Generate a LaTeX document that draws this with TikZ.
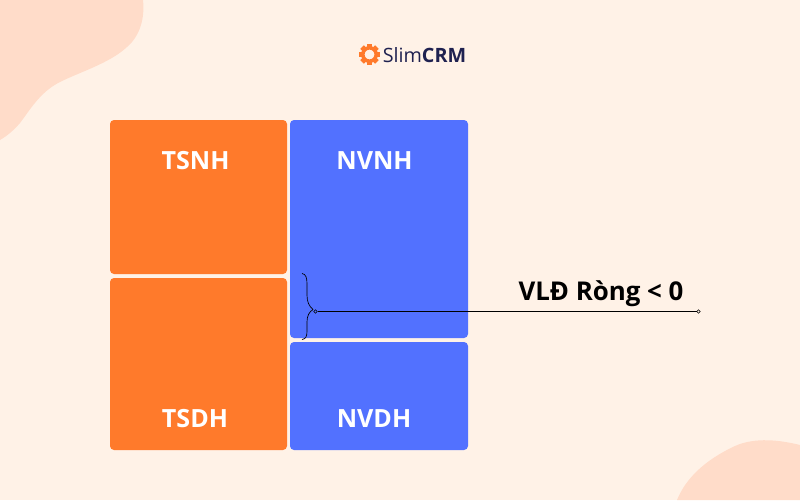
\documentclass[tikz,border=0pt]{standalone}
\usepackage{fontspec}
\setmainfont{Open Sans}
\usetikzlibrary{positioning}
\definecolor{bgcream}{RGB}{255,242,231}
\definecolor{blobpeach}{RGB}{255,220,201}
\definecolor{boxorange}{RGB}{255,122,43}
\definecolor{boxblue}{RGB}{82,113,255}
\definecolor{logonavy}{RGB}{31,33,80}
\tikzset{
  orangebox/.style={rectangle,rounded corners=3pt,inner sep=0pt,fill=boxorange,minimum width=132.75pt},
  bluebox/.style={rectangle,rounded corners=3pt,inner sep=0pt,fill=boxblue,minimum width=133.5pt},
  boxlabel/.style={text=white,font=\fontsize{18.8}{22}\selectfont\bfseries},
  enddot/.style={circle,draw=black,fill=none,line width=0.4pt,inner sep=0pt,minimum size=2.6pt}
}
\begin{document}
\begin{tikzpicture}[x=0.75pt,y=0.75pt,yscale=-1,xscale=1]
\useasboundingbox (0,0) rectangle (800,500);
\fill [bgcream] (0,0) rectangle (800,500);

% Background blobs
\fill [blobpeach] (0,0) -- (143,0) .. controls (145,18) and (140,36) .. (127,47) .. controls (110,63) and (80,72) .. (60,82) .. controls (40,92) and (30,110) .. (20,123) .. controls (14,130) and (7,136) .. (0,140) -- cycle;
\fill [blobpeach] (677,500) .. controls (686,478) and (705,460) .. (735,446) .. controls (755,437) and (780,440) .. (800,445) -- (800,500) -- cycle;

% Logo
\foreach \a in {0,45,...,315}
  \fill [boxorange,rotate around={\a:(369.5,54.5)}] (367,44) rectangle (372,48);
\node (gear) [circle,draw=boxorange,line width=2.6pt,inner sep=0pt,minimum size=10pt] at (369.5,54.5) {};
\node (logo) [anchor=west,inner sep=0pt,text=logonavy,font=\fontsize{14.8}{16}\selectfont] at (382.5,55.5) {Slim\textbf{CRM}};

% Boxes
\node (tsnh) [orangebox,minimum height=115.5pt] at (198.5,197) {};
\node (tsdh) [orangebox,minimum height=129pt] at (198.5,364) {};
\node (nvnh) [bluebox,minimum height=163.5pt] at (379,229) {};
\node (nvdh) [bluebox,minimum height=81pt] at (379,396) {};

% Text Node
\node (tsnhlabel) [boxlabel] at (195.5,161) {TSNH};
\node (tsdhlabel) [boxlabel] at (195,419) {TSDH};
\node (nvnhlabel) [boxlabel] at (374.5,161) {NVNH};
\node (nvdhlabel) [boxlabel] at (374,419) {NVDH};
\node (vld) [text=black,font=\fontsize{19.4}{22}\selectfont\bfseries] at (601,294) {VLĐ Ròng < 0};

% Brace
\draw [black,line width=0.5pt] (302,273.5) .. controls (306,274) and (307,278) .. (307,284) -- (307,295) .. controls (307,302) and (309,306) .. (313,309.5) .. controls (309,312) and (307,316) .. (307,322) -- (307,331) .. controls (307,336) and (306,339) .. (302,339.5);

% Connection
\node (dotleft) [enddot] at (315.5,311.5) {};
\node (dotright) [enddot] at (698.5,311.5) {};
\draw [black,line width=0.5pt] (dotleft) -- (dotright);
\end{tikzpicture}
\end{document}
